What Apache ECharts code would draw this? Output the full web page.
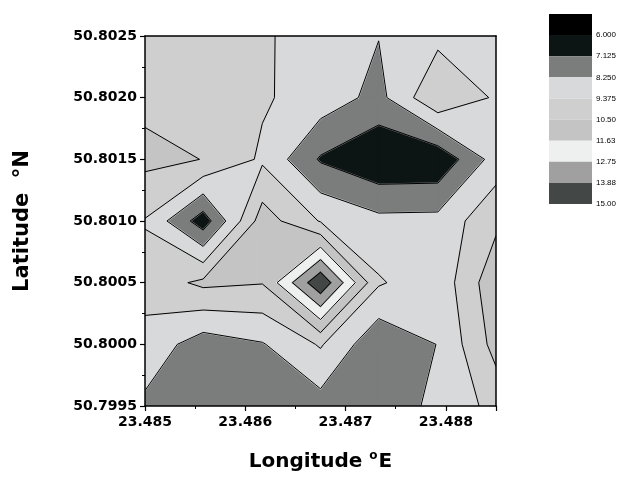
<!DOCTYPE html>
<html>
<head>
<meta charset="utf-8">
<script src="https://cdn.jsdelivr.net/npm/echarts@6/dist/echarts.min.js"></script>
<style>
  html, body { margin: 0; padding: 0; background: #ffffff; }
  #chart { width: 623px; height: 487px; }
</style>
</head>
<body>
<div id="chart"></div>
<script>
// Sampling grid: longitudes (west to east) and latitudes (north to south)
const longitudes = [23.48500, 23.48558, 23.48617, 23.48675, 23.48733, 23.48792, 23.48850];
const latitudes = [50.8025, 50.8020, 50.8015, 50.8010, 50.8005, 50.8000, 50.7995];

// Measured values, one row per latitude, one entry per longitude
const row50_8025 = [10.00, 10.00, 9.50, 8.93, 8.28, 9.07, 9.00];
const row50_8020 = [10.22, 10.10, 9.50, 8.90, 7.90, 10.40, 9.23];
const row50_8015 = [10.80, 10.48, 9.20, 7.00, 6.15, 6.20, 8.75];
const row50_8010 = [9.31, 6.50, 11.07, 9.30, 8.56, 8.60, 10.25];
const row50_8005 = [9.80, 10.75, 10.55, 14.80, 9.50, 8.60, 11.30];
const row50_8000 = [9.00, 7.65, 8.17, 9.49, 7.35, 8.28, 10.90];
const row50_7995 = [8.00, 7.60, 7.50, 7.77, 7.90, 8.39, 9.78];
const values = [row50_8025, row50_8020, row50_8015, row50_8010, row50_8005, row50_8000, row50_7995];

// Contour levels, their printed labels and the fill of each band
// (bandColors[0] lies below the first level, bandColors[k] between levels k-1 and k)
const levels = [6.000, 7.125, 8.250, 9.375, 10.500, 11.625, 12.750, 13.875, 15.000];
const levelLabels = ['6.000', '7.125', '8.250', '9.375', '10.50', '11.63', '12.75', '13.88', '15.00'];
const bandColors = ['#000000', '#0d1514', '#7a7d7c', '#d8d9da', '#cfcfcf', '#c4c4c4', '#eef0ef', '#a0a0a0', '#434847'];

// Axis tick labels
const lonTickLabels = ['23.485', '23.486', '23.487', '23.488'];
const latTickLabels = ['50.7995', '50.8000', '50.8005', '50.8010', '50.8015', '50.8020', '50.8025'];

const LON_MIN = 23.4850, LON_MAX = 23.4885, LON_STEP = 0.001;
const LAT_MIN = 50.7995, LAT_MAX = 50.8025, LAT_STEP = 0.0005;

// ---- marching squares helpers (per grid cell, linear along edges) ----
function cellCorners(i, j) {
  // top-left, top-right, bottom-right, bottom-left
  const idx = [[i, j], [i + 1, j], [i + 1, j + 1], [i, j + 1]];
  return {
    pts: idx.map(([a, b]) => [longitudes[a], latitudes[b]]),
    vals: idx.map(([a, b]) => values[b][a])
  };
}
function edgePoint(c, k, m, L) {
  const t = (L - c.vals[k]) / (c.vals[m] - c.vals[k]);
  const p = c.pts[k], q = c.pts[m];
  return [p[0] + t * (q[0] - p[0]), p[1] + t * (q[1] - p[1])];
}
// Polygons of the part of cell (i, j) where value >= L
function regionAbove(i, j, L) {
  const c = cellCorners(i, j);
  const hi = c.vals.map(v => v >= L);
  const n = hi.filter(Boolean).length;
  if (n === 0) return [];
  const avg = (c.vals[0] + c.vals[1] + c.vals[2] + c.vals[3]) / 4;
  const saddle = n === 2 && hi[0] === hi[2];
  if (saddle && avg < L) {
    return [0, 1, 2, 3].filter(k => hi[k]).map(k => [
      edgePoint(c, (k + 3) % 4, k, L), c.pts[k], edgePoint(c, k, (k + 1) % 4, L)
    ]);
  }
  const poly = [];
  for (let k = 0; k < 4; k++) {
    const m = (k + 1) % 4;
    if (hi[k]) poly.push(c.pts[k]);
    if (hi[k] !== hi[m]) poly.push(edgePoint(c, k, m, L));
  }
  return [poly];
}
// Contour segments of level L inside cell (i, j)
function isoSegments(i, j, L) {
  const c = cellCorners(i, j);
  const hi = c.vals.map(v => v >= L);
  const n = hi.filter(Boolean).length;
  if (n === 0 || n === 4) return [];
  const avg = (c.vals[0] + c.vals[1] + c.vals[2] + c.vals[3]) / 4;
  if (n === 2 && hi[0] === hi[2]) {
    const isolateHigh = avg < L; // centre below the level: high corners stand apart
    return [0, 1, 2, 3].filter(k => hi[k] === isolateHigh).map(k => [
      edgePoint(c, (k + 3) % 4, k, L), edgePoint(c, k, (k + 1) % 4, L)
    ]);
  }
  const pts = [];
  for (let k = 0; k < 4; k++) {
    const m = (k + 1) % 4;
    if (hi[k] !== hi[m]) pts.push(edgePoint(c, k, m, L));
  }
  return [[pts[0], pts[1]]];
}

const cells = [];
for (let j = 0; j < latitudes.length - 1; j++) {
  for (let i = 0; i < longitudes.length - 1; i++) {
    cells.push([(longitudes[i] + longitudes[i + 1]) / 2, (latitudes[j] + latitudes[j + 1]) / 2, i, j]);
  }
}
// Fill items ordered by band, so every band is painted over the whole grid before the next one
const fillThresholds = [-Infinity].concat(levels.slice(0, bandColors.length - 1));
const fillItems = [];
fillThresholds.forEach((L, k) => cells.forEach(c => fillItems.push(c.concat([k]))));
const legendItems = bandColors.map((col, k) => [0.5, k + 0.5, k]);

const FONT = 'DejaVu Sans';

const chart = echarts.init(document.getElementById('chart'), null, { renderer: 'canvas' });
chart.setOption({
  animation: false,
  backgroundColor: '#ffffff',
  grid: [
    { left: 145, top: 36, width: 351, height: 370 },
    { left: 549, top: 14, width: 43, height: 190 }
  ],
  xAxis: [
    {
      type: 'value', gridIndex: 0, position: 'bottom',
      min: LON_MIN, max: LON_MAX, interval: LON_STEP,
      z: 10,
      axisLine: { show: true, onZero: false, lineStyle: { color: '#000', width: 1.5 } },
      axisTick: { show: true, inside: false, length: 5, lineStyle: { color: '#000', width: 1.2 } },
      minorTick: { show: true, splitNumber: 2, length: 3, lineStyle: { color: '#000', width: 1 } },
      splitLine: { show: false },
      axisLabel: {
        show: true, margin: 9, showMaxLabel: false,
        color: '#000', fontFamily: FONT, fontWeight: 'bold', fontSize: 14,
        formatter: v => {
          const k = Math.round((v - LON_MIN) / LON_STEP);
          return Math.abs(v - (LON_MIN + k * LON_STEP)) < 1e-7 && lonTickLabels[k] ? lonTickLabels[k] : '';
        }
      },
      name: '{t|Longitude }{s|o}{t|E}',
      nameLocation: 'middle', nameGap: 44,
      nameTextStyle: {
        color: '#000', fontFamily: FONT, fontWeight: 'bold', fontSize: 20,
        rich: {
          t: { fontFamily: FONT, fontWeight: 'bold', fontSize: 20, color: '#000', lineHeight: 24 },
          s: { fontFamily: FONT, fontWeight: 'bold', fontSize: 12, color: '#000', verticalAlign: 'top', lineHeight: 24, padding: [0, 1, 10, 0] }
        }
      }
    },
    {
      type: 'value', gridIndex: 0, position: 'top',
      min: LON_MIN, max: LON_MAX, interval: LON_STEP, z: 10,
      axisLine: { show: true, onZero: false, lineStyle: { color: '#000', width: 1.5 } },
      axisTick: { show: false }, axisLabel: { show: false }, splitLine: { show: false }
    },
    {
      type: 'value', gridIndex: 1, min: 0, max: 1, show: false
    }
  ],
  yAxis: [
    {
      type: 'value', gridIndex: 0, position: 'left',
      min: LAT_MIN, max: LAT_MAX, interval: LAT_STEP,
      z: 10,
      axisLine: { show: true, onZero: false, lineStyle: { color: '#000', width: 1.5 } },
      axisTick: { show: true, inside: false, length: 5, lineStyle: { color: '#000', width: 1.2 } },
      minorTick: { show: true, splitNumber: 2, length: 3, lineStyle: { color: '#000', width: 1 } },
      splitLine: { show: false },
      axisLabel: {
        show: true, margin: 8,
        color: '#000', fontFamily: FONT, fontWeight: 'bold', fontSize: 14,
        formatter: v => {
          const k = Math.round((v - LAT_MIN) / LAT_STEP);
          return Math.abs(v - (LAT_MIN + k * LAT_STEP)) < 1e-8 && latTickLabels[k] ? latTickLabels[k] : '';
        }
      },
      name: 'Latitude  °N',
      nameLocation: 'middle', nameGap: 112, nameRotate: 90,
      nameTextStyle: { color: '#000', fontFamily: FONT, fontWeight: 'bold', fontSize: 21 }
    },
    {
      type: 'value', gridIndex: 0, position: 'right',
      min: LAT_MIN, max: LAT_MAX, interval: LAT_STEP, z: 10,
      axisLine: { show: true, onZero: false, lineStyle: { color: '#000', width: 1.5 } },
      axisTick: { show: false }, axisLabel: { show: false }, splitLine: { show: false }
    },
    {
      type: 'value', gridIndex: 1, position: 'right', inverse: true,
      min: 0, max: bandColors.length, interval: 1,
      axisLine: { show: false }, axisTick: { show: false }, splitLine: { show: false },
      axisLabel: {
        show: true, margin: 4, color: '#000', fontFamily: 'Liberation Sans', fontSize: 8,
        verticalAlign: 'middle', padding: [5, 0, 0, 0],
        formatter: v => (v >= 1 && levelLabels[v - 1]) ? levelLabels[v - 1] : ''
      }
    }
  ],
  series: [
    {
      // filled contour bands, painted from the lowest threshold upwards
      type: 'custom', xAxisIndex: 0, yAxisIndex: 0, clip: true, silent: true, z: 2,
      data: fillItems, encode: { x: 0, y: 1 },
      renderItem: (params, api) => {
        const i = api.value(2), j = api.value(3), k = api.value(4);
        const children = regionAbove(i, j, fillThresholds[k]).map(poly => ({
          type: 'polygon',
          shape: { points: poly.map(p => api.coord(p)) },
          style: { fill: bandColors[k], stroke: bandColors[k], lineWidth: 1.6, lineJoin: 'round' }
        }));
        return { type: 'group', children };
      }
    },
    {
      // contour lines
      type: 'custom', xAxisIndex: 0, yAxisIndex: 0, clip: true, silent: true, z: 3,
      data: cells, encode: { x: 0, y: 1 },
      renderItem: (params, api) => {
        const i = api.value(2), j = api.value(3);
        const children = [];
        levels.forEach(L => {
          isoSegments(i, j, L).forEach(seg => {
            const a = api.coord(seg[0]), b = api.coord(seg[1]);
            children.push({
              type: 'line',
              shape: { x1: a[0], y1: a[1], x2: b[0], y2: b[1] },
              style: { stroke: '#000', lineWidth: 1 }
            });
          });
        });
        return { type: 'group', children };
      }
    },
    {
      // colour key
      type: 'custom', xAxisIndex: 2, yAxisIndex: 2, silent: true,
      data: legendItems, encode: { x: 0, y: 1 },
      renderItem: (params, api) => {
        const k = api.value(2);
        const p0 = api.coord([0, k]), p1 = api.coord([1, k + 1]);
        return {
          type: 'rect',
          shape: { x: p0[0], y: Math.min(p0[1], p1[1]), width: p1[0] - p0[0], height: Math.abs(p1[1] - p0[1]) },
          style: { fill: bandColors[k] }
        };
      }
    }
  ]
});
</script>
</body>
</html>
